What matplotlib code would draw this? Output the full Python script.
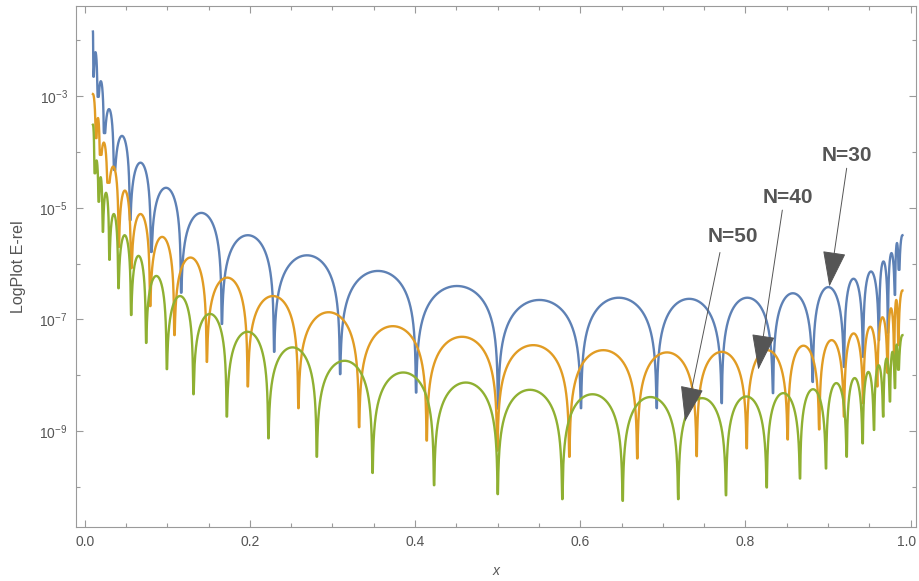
"""
Relative error of the N=30/40/50 approximations on (0, 1), log scale.
Values read off the reference picture: zero positions, arc maxima and
the depth of each sampled dip (all in log10).
"""

import numpy as np
import matplotlib
matplotlib.use("Agg")
import matplotlib.pyplot as plt
from matplotlib.patches import ArrowStyle
from matplotlib.transforms import ScaledTranslation


# ─── Data ────────────────────────────────────────────────────────────────────

X_START, X_END = 0.01, 0.99

# N=30
n30_zeros = [0.0104, 0.0157, 0.0234, 0.0355, 0.0548, 0.0803, 0.1166, 0.1659,
             0.2292, 0.3091, 0.4011, 0.5004, 0.6008, 0.6925, 0.7712, 0.8333,
             0.8814, 0.9193, 0.9423, 0.9616, 0.9725, 0.9810, 0.9858]
n30_peaks = [-1.84, -2.21, -2.73, -3.23, -3.71, -4.19, -4.64, -5.09, -5.49,
             -5.85, -6.13, -6.40, -6.65, -6.61, -6.63, -6.61, -6.53, -6.42,
             -6.27, -6.14, -5.96, -5.81, -5.63, -5.49]
n30_dips = [-2.65, -3.01, -3.66, -4.32, -5.22, -5.79, -6.52, -7.08, -7.58,
            -7.98, -8.31, -8.60, -8.59, -8.59, -8.50, -8.32, -8.12, -7.85,
            -7.67, -7.37, -7.24, -6.56, -6.11]

# N=40
n40_zeros = [0.0137, 0.0185, 0.0278, 0.0412, 0.0561, 0.0791, 0.1085, 0.1477,
             0.1973, 0.2586, 0.3321, 0.4140, 0.4995, 0.5867, 0.6690, 0.7409,
             0.8015, 0.8511, 0.8893, 0.9193, 0.9426, 0.9596, 0.9722, 0.9801,
             0.9850]
n40_peaks = [-2.96, -3.39, -3.83, -4.26, -4.69, -5.11, -5.52, -5.89, -6.25,
             -6.58, -6.87, -7.12, -7.31, -7.46, -7.55, -7.59, -7.58, -7.55,
             -7.47, -7.37, -7.25, -7.13, -6.96, -6.80, -6.65, -6.48]
n40_dips = [-3.75, -4.05, -4.55, -5.70, -6.08, -6.76, -7.28, -7.76, -8.20,
            -8.59, -8.93, -9.17, -9.35, -9.46, -9.49, -9.45, -9.31, -9.15,
            -8.97, -8.74, -8.50, -8.20, -7.96, -7.73, -7.46]

# N=50
n50_zeros = [0.0119, 0.0169, 0.0218, 0.0298, 0.0407, 0.0561, 0.0742, 0.0993,
             0.1315, 0.1719, 0.2223, 0.2809, 0.3484, 0.4229, 0.5000, 0.5782,
             0.6513, 0.7186, 0.7764, 0.8257, 0.8660, 0.8975, 0.9225, 0.9419,
             0.9556, 0.9668, 0.9749, 0.9810, 0.9850]
n50_peaks = [-3.51, -4.15, -4.45, -4.73, -5.11, -5.49, -5.86, -6.22, -6.58,
             -6.90, -7.22, -7.50, -7.74, -7.95, -8.13, -8.26, -8.34, -8.39,
             -8.41, -8.38, -8.32, -8.25, -8.14, -8.05, -7.94, -7.82, -7.70,
             -7.58, -7.45, -7.28]
n50_dips = [-4.38, -4.89, -5.43, -5.93, -6.44, -6.92, -7.42, -7.89, -8.34,
            -8.74, -9.13, -9.46, -9.75, -9.97, -10.13, -10.22, -10.25, -10.22,
            -10.15, -10.01, -9.85, -9.67, -9.46, -9.22, -8.98, -8.74, -8.47,
            -8.23, -7.90]

labels = ["N=30", "N=40", "N=50"]
# arrow tip (x, log10 y) for each label
label_tips = [(0.9015, -6.41), (0.8155, -7.90), (0.7268, -8.83)]

x_ticks = [0.0, 0.2, 0.4, 0.6, 0.8, 1.0]
x_tick_labels = ["0.0", "0.2", "0.4", "0.6", "0.8", "1.0"]
y_ticks = [1e-3, 1e-5, 1e-7, 1e-9]
y_tick_labels = [r"$10^{-3}$", r"$10^{-5}$", r"$10^{-7}$", r"$10^{-9}$"]
y_minor_ticks = [1e-2, 1e-4, 1e-6, 1e-8, 1e-10]


# ─── Style ───────────────────────────────────────────────────────────────────

COLORS = ["#5E81B5", "#E19C24", "#8FB032"]
FRAME = "#9a9a9a"
TEXT = "#555555"

plt.rcParams["font.family"] = ["Liberation Sans", "DejaVu Sans"]
plt.rcParams["mathtext.fontset"] = "custom"
plt.rcParams["mathtext.rm"] = "Liberation Sans"
plt.rcParams["mathtext.it"] = "Liberation Sans:italic"
plt.rcParams["mathtext.bf"] = "Liberation Sans:bold"


# ─── Curve from zeros / arc maxima ───────────────────────────────────────────

def build_curve(zeros, peaks, dips, n=401):
    """Join one |sin|-shaped arc per pair of zeros; dips clipped at read depth."""
    edges = [2 * X_START - zeros[0]] + list(zeros) + [2 * X_END - zeros[-1]]
    lows = [-np.inf] + list(dips) + [-np.inf]
    t = (1 - np.cos(np.linspace(0, np.pi, n))) / 2
    xs, ys = [], []
    for i in range(len(edges) - 1):
        a, b = edges[i], edges[i + 1]
        x = a + (b - a) * t
        with np.errstate(divide="ignore"):
            y = peaks[i] + np.log10(np.abs(np.sin(np.pi * t)))
        y = np.where(t < 0.5, np.maximum(y, lows[i]), np.maximum(y, lows[i + 1]))
        keep = (x >= X_START - 1e-9) & (x <= X_END + 1e-9)
        xs.append(x[keep])
        ys.append(y[keep])
    return np.concatenate(xs), 10 ** np.concatenate(ys)


# ─── Plot ────────────────────────────────────────────────────────────────────

fig = plt.figure(figsize=(9.19, 5.81), dpi=100)
ax = fig.add_axes([0.0827, 0.0935, 0.9140, 0.8962])

series = [(n30_zeros, n30_peaks, n30_dips),
          (n40_zeros, n40_peaks, n40_dips),
          (n50_zeros, n50_peaks, n50_dips)]
for (z, p, d), c in zip(series, COLORS):
    x, y = build_curve(z, p, d)
    ax.plot(x, y, color=c, lw=1.7, solid_joinstyle="round", zorder=2)

ax.set_yscale("log")
ax.set_xlim(-0.0105, 1.0064)
ax.set_ylim(10 ** -10.713, 10 ** -1.382)

ax.set_xticks(x_ticks, labels=x_tick_labels)
ax.set_xticks(np.arange(0, 1.001, 0.05), minor=True)
ax.set_yticks(y_ticks, labels=y_tick_labels)
ax.set_yticks(y_minor_ticks, labels=[""] * len(y_minor_ticks), minor=True)
ax.tick_params(which="both", direction="in", top=True, right=True,
               color=FRAME, width=0.8, labelcolor=TEXT, labelsize=10)
ax.tick_params(which="major", length=5, pad=6)
ax.tick_params(which="minor", length=3)
for s in ax.spines.values():
    s.set_color(FRAME)
    s.set_linewidth(0.8)

# keep the last x label inside the canvas
last = ax.get_xticklabels()[-1]
last.set_transform(last.get_transform() + ScaledTranslation(-0.04, 0, fig.dpi_scale_trans))

ax.set_xlabel("x", color=TEXT, fontsize=10, style="italic")
ax.xaxis.set_label_coords(0.5, -0.072)
ax.set_ylabel("LogPlot E-rel", color=TEXT, fontsize=11.5)
ax.yaxis.set_label_coords(-0.060, 0.5)

# labels with arrows
text_pos = [(0.9225, -4.07), (0.8518, -4.81), (0.7845, -5.52)]
arrow_from = [(0.9225, -4.29), (0.8446, -5.04), (0.7691, -5.80)]
head = ArrowStyle("-|>", head_length=23, head_width=7.5)
for lab, (tx, ty), (fx, fy), (hx, hy) in zip(labels, text_pos, arrow_from, label_tips):
    ax.text(tx, 10 ** ty, lab, ha="center", va="center", color=TEXT,
            fontsize=15, fontweight="bold", zorder=4)
    ax.annotate("", xy=(hx, 10 ** hy), xytext=(fx, 10 ** fy),
                arrowprops=dict(arrowstyle=head, mutation_scale=1, color=TEXT,
                                lw=0.7, shrinkA=0, shrinkB=0),
                zorder=4)

fig.savefig("out.png", dpi=100)
